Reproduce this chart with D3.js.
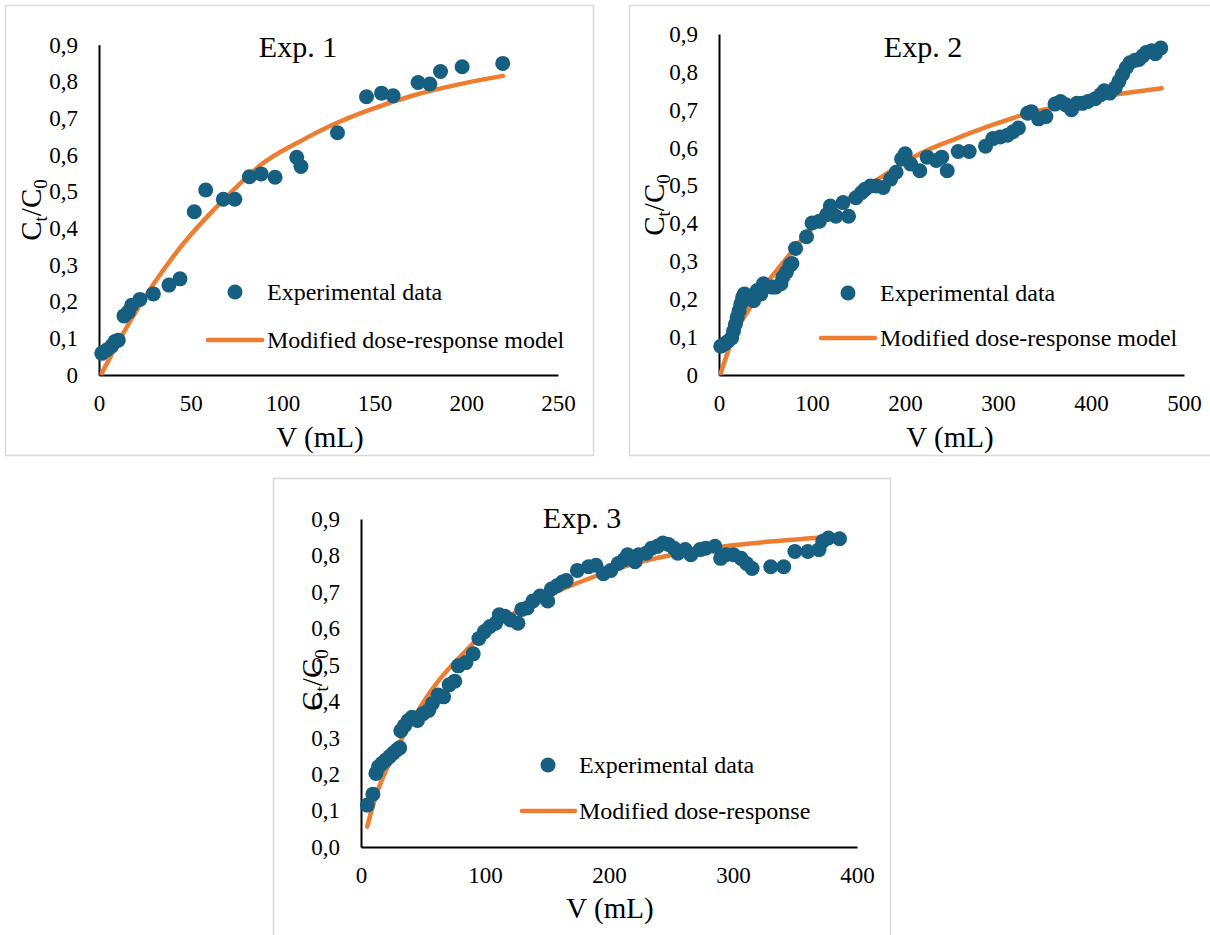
<!DOCTYPE html>
<html>
<head>
<meta charset="utf-8">
<script src="https://cdn.jsdelivr.net/npm/d3@7"></script>
<style>
  body { margin: 0; background: #fff; }
  svg text { font-family: "Liberation Serif", "DejaVu Serif", "Times New Roman", serif; }
</style>
</head>
<body>
<div id="chart"></div>
<script>
// ---- data: [V (mL), Ct/C0] ----
const exp1Data = [
  [1.5,0.059],[4.2,0.068],[6.9,0.079],[8.7,0.091],[10.5,0.095],[13.6,0.161],[16,0.172],[17.8,0.19],
  [22.3,0.206],[29.6,0.221],[38.1,0.245],[44.1,0.262],[51.9,0.445],[58.1,0.504],[67.7,0.479],[74,0.479],
  [81.9,0.54],[88.3,0.548],[95.9,0.539],[107.7,0.593],[110,0.568],[129.9,0.66],[145.7,0.758],[153.9,0.768],
  [160.2,0.761],[173.8,0.797],[180.2,0.793],[186,0.827],[197.8,0.84],[219.9,0.849]
];
const exp1Model = [
  [1.5,0.005],[10,0.085],[20,0.172],[30,0.25],[40,0.32],[50,0.382],[60,0.437],[73,0.503],[88,0.572],
  [110,0.638],[130,0.688],[147,0.722],[172,0.763],[196,0.792],[220,0.815]
];

const exp2Data = [
  [1.9,0.076],[5.8,0.082],[9.7,0.089],[13.6,0.098],[15.6,0.116],[17.6,0.134],[19.5,0.152],[21.5,0.169],
  [23.4,0.187],[25.4,0.205],[27.4,0.214],[37.2,0.196],[41.1,0.223],[45,0.214],[47.8,0.241],[56.8,0.232],
  [60.8,0.232],[66.6,0.241],[68.6,0.258],[72.5,0.272],[76.4,0.29],[78.4,0.294],[82.3,0.334],[94.1,0.365],
  [100,0.401],[107.9,0.406],[115.7,0.423],[119.7,0.446],[125.6,0.419],[133.4,0.455],[139.3,0.419],
  [147.2,0.468],[153.1,0.481],[157,0.49],[162.9,0.499],[168.8,0.499],[176.6,0.495],[184.5,0.517],
  [190.4,0.535],[196.3,0.57],[200.2,0.584],[206.1,0.557],[215.9,0.539],[223.8,0.575],[233.6,0.566],
  [239.5,0.575],[245.4,0.539],[257.2,0.59],[269,0.59],[286.6,0.604],[294.5,0.624],[302.3,0.628],
  [310.2,0.633],[316.1,0.642],[322,0.652],[331.8,0.691],[335.8,0.695],[343.6,0.676],[351.5,0.682],
  [361.3,0.715],[367.2,0.722],[373.1,0.713],[379,0.7],[384.9,0.717],[390.8,0.717],[396.7,0.722],
  [404.5,0.729],[410.4,0.74],[414.3,0.75],[420.2,0.744],[426.1,0.758],[430,0.775],[433.9,0.793],
  [437.9,0.811],[441.8,0.824],[447.7,0.831],[451.6,0.833],[455.5,0.842],[459.4,0.851],[465.3,0.856],
  [469.2,0.848],[475.1,0.863]
];
const exp2Model = [
  [2,0.005],[15,0.098],[31,0.169],[51,0.241],[71,0.303],[98,0.383],[138,0.463],[177,0.526],[216,0.584],
  [255,0.624],[294,0.66],[334,0.692],[373,0.713],[410,0.735],[440,0.745],[476,0.757]
];

const exp3Data = [
  [5.1,0.115],[9.6,0.145],[12,0.202],[14.1,0.22],[17.1,0.23],[20.1,0.239],[23.1,0.248],[26.1,0.258],
  [29.1,0.267],[31.2,0.272],[32.1,0.319],[35.1,0.333],[38.1,0.347],[41.1,0.356],[45.6,0.347],[50.1,0.366],
  [54.6,0.375],[57.6,0.394],[62.1,0.417],[66.6,0.412],[71.1,0.445],[75.6,0.455],[78.5,0.497],[84.6,0.506],
  [90.5,0.53],[95.1,0.572],[99.6,0.591],[104,0.605],[108.6,0.614],[111.5,0.637],[116.1,0.633],[120.6,0.623],
  [126.6,0.614],[129.6,0.652],[134,0.656],[138.6,0.675],[144.5,0.689],[150.6,0.675],[153.5,0.708],
  [158,0.717],[162.5,0.727],[165.5,0.731],[174.5,0.759],[183.5,0.769],[189.5,0.773],[195.5,0.75],
  [201.5,0.759],[207.5,0.778],[212,0.788],[215,0.802],[221,0.783],[224,0.802],[230,0.806],[234.4,0.82],
  [239,0.825],[243.5,0.834],[248,0.83],[252.4,0.82],[255.5,0.806],[261.5,0.816],[266,0.802],[273.5,0.816],
  [278,0.82],[285.4,0.825],[290,0.792],[294.4,0.802],[300.4,0.802],[306.5,0.792],[310.9,0.778],
  [315.4,0.764],[330.4,0.769],[340.9,0.769],[349.9,0.811],[360.4,0.811],[369.4,0.816],[372.4,0.839],
  [376.9,0.848],[385.9,0.846]
];
const exp3Model = [
  [5,0.056],[12,0.14],[25,0.245],[40,0.34],[60,0.445],[85,0.54],[100,0.59],[115,0.625],[145,0.68],
  [175,0.725],[205,0.762],[235,0.79],[265,0.81],[295,0.826],[330,0.838],[373,0.85]
];

const titles = ['Exp. 1', 'Exp. 2', 'Exp. 3'];
const legendNames = ['Experimental data', 'Modified dose-response model', 'Modified dose-response'];
const xTicks1 = [0, 50, 100, 150, 200, 250];
const xTicks2 = [0, 100, 200, 300, 400, 500];
const xTicks3 = [0, 100, 200, 300, 400];
const yTicks = [0, 0.1, 0.2, 0.3, 0.4, 0.5, 0.6, 0.7, 0.8, 0.9];
const yLabels12 = ['0', '0,1', '0,2', '0,3', '0,4', '0,5', '0,6', '0,7', '0,8', '0,9'];
const yLabels3 = ['0,0', '0,1', '0,2', '0,3', '0,4', '0,5', '0,6', '0,7', '0,8', '0,9'];

const dotColor = '#175F80';
const lineColor = '#ED7D31';
const serif = '"Liberation Serif", "DejaVu Serif", "Times New Roman", serif';

// layout of each panel (pixels)
const panels = [
  {box: [5, 5, 588, 450], xr: [99, 558], yr: [375, 44.7], xmax: 250, xTicks: xTicks1, yLabels: yLabels12,
   data: exp1Data, model: exp1Model, title: titles[0], titlePos: [298, 57], yTitle: [31, 210], xTitle: [320, 447],
   leg: {dot: [235, 292], text: 267, line: [208, 262, 340], name: legendNames[1]}},
  {box: [629, 5, 584, 450], xr: [719, 1184], yr: [375, 34], xmax: 500, xTicks: xTicks2, yLabels: yLabels12,
   data: exp2Data, model: exp2Model, title: titles[1], titlePos: [923, 57], yTitle: [654, 205], xTitle: [950, 447],
   leg: {dot: [848, 293], text: 880, line: [821, 875, 338], name: legendNames[1]}},
  {box: [273, 478, 617, 462], xr: [361, 857], yr: [847, 519], xmax: 400, xTicks: xTicks3, yLabels: yLabels3,
   data: exp3Data, model: exp3Model, title: titles[2], titlePos: [582, 528], yTitle: [312, 680], xTitle: [610, 918],
   leg: {dot: [548, 765], text: 579, line: [522, 575, 811], name: legendNames[2]}}
];

const svg = d3.select('#chart').append('svg')
  .attr('width', 1210)
  .attr('height', 935);

svg.append('rect').attr('width', 1210).attr('height', 935).attr('fill', '#fff');

panels.forEach(p => {
  const g = svg.append('g');

  // panel frame
  g.append('rect')
    .attr('x', p.box[0] + 0.5).attr('y', p.box[1] + 0.5)
    .attr('width', p.box[2]).attr('height', p.box[3])
    .attr('fill', '#fff')
    .attr('stroke', '#d9d9d9')
    .attr('stroke-width', 1.5);

  const x = d3.scaleLinear().domain([0, p.xmax]).range(p.xr);
  const y = d3.scaleLinear().domain([0, 0.9]).range(p.yr);

  const xAxis = d3.axisBottom(x)
    .tickValues(p.xTicks)
    .tickSize(0)
    .tickPadding(20)
    .tickFormat(d3.format('d'));
  const yAxis = d3.axisLeft(y)
    .tickValues(yTicks)
    .tickSize(0)
    .tickPadding(21)
    .tickFormat((d, i) => p.yLabels[i]);

  const xg = g.append('g').attr('transform', `translate(0,${p.yr[0]})`).call(xAxis);
  const yg = g.append('g').attr('transform', `translate(${p.xr[0]},0)`).call(yAxis);
  [xg, yg].forEach(a => {
    a.attr('font-family', null).style('font-family', serif);
    a.select('.domain').attr('stroke', '#000').attr('stroke-width', 2);
    a.selectAll('text').attr('font-size', 23).attr('fill', '#000').style('font-family', serif);
  });

  // model curve
  const line = d3.line()
    .x(d => x(d[0]))
    .y(d => y(d[1]))
    .curve(d3.curveMonotoneX);
  g.append('path')
    .datum(p.model)
    .attr('fill', 'none')
    .attr('stroke', lineColor)
    .attr('stroke-width', 4.5)
    .attr('stroke-linecap', 'round')
    .attr('d', line);

  // experimental points
  g.selectAll('.pt')
    .data(p.data)
    .join('circle')
    .attr('class', 'pt')
    .attr('cx', d => x(d[0]))
    .attr('cy', d => y(d[1]))
    .attr('r', 7.5)
    .attr('fill', dotColor);

  // title
  g.append('text')
    .attr('x', p.titlePos[0]).attr('y', p.titlePos[1])
    .attr('text-anchor', 'middle')
    .attr('font-size', 30)
    .style('font-family', serif)
    .text(p.title);

  // axis titles
  g.append('text')
    .attr('x', p.xTitle[0]).attr('y', p.xTitle[1])
    .attr('text-anchor', 'middle')
    .attr('font-size', 29)
    .style('font-family', serif)
    .text('V (mL)');

  const yt = g.append('text')
    .attr('transform', `translate(${p.yTitle[0]},${p.yTitle[1]}) rotate(-90)`)
    .attr('text-anchor', 'middle')
    .attr('dy', '0.35em')
    .attr('font-size', 29)
    .style('font-family', serif);
  yt.append('tspan').text('C');
  yt.append('tspan').attr('dy', 6).attr('font-size', 19).text('t');
  yt.append('tspan').attr('dy', -6).text('/C');
  yt.append('tspan').attr('dy', 6).attr('font-size', 19).text('0');

  // legend
  g.append('circle')
    .attr('cx', p.leg.dot[0]).attr('cy', p.leg.dot[1])
    .attr('r', 7.5).attr('fill', dotColor);
  g.append('text')
    .attr('x', p.leg.text).attr('y', p.leg.dot[1] + 8)
    .attr('font-size', 24)
    .style('font-family', serif)
    .text(legendNames[0]);
  g.append('line')
    .attr('x1', p.leg.line[0]).attr('x2', p.leg.line[1])
    .attr('y1', p.leg.line[2]).attr('y2', p.leg.line[2])
    .attr('stroke', lineColor)
    .attr('stroke-width', 4.5)
    .attr('stroke-linecap', 'round');
  g.append('text')
    .attr('x', p.leg.text).attr('y', p.leg.line[2] + 8)
    .attr('font-size', 24)
    .style('font-family', serif)
    .text(p.leg.name);
});
</script>
</body>
</html>
